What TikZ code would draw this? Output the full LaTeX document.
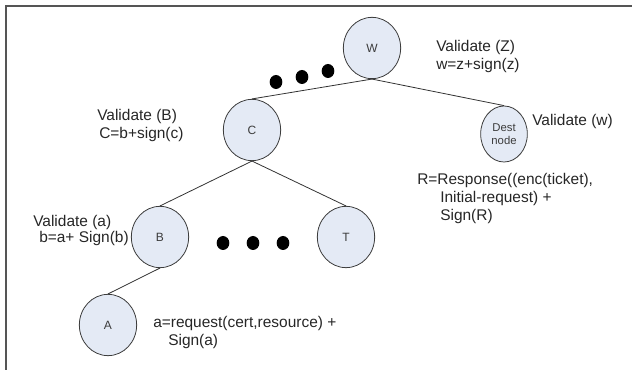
\documentclass[tikz,border=0pt]{standalone}
\usepackage{fontspec}
\setmainfont{Liberation Sans}
\usepackage{tikz}
\usetikzlibrary{shapes.geometric}
\usepackage{xcolor}
\definecolor{peer-fill}{HTML}{E4EAF5}
\definecolor{peer-line}{HTML}{3C3C3C}
\definecolor{frame-gray}{HTML}{555555}

\begin{document}
\begin{tikzpicture}[x=0.75pt, y=-0.75pt,
	peer/.style={ellipse, draw=peer-line, fill=peer-fill, line width=0.6pt, minimum width=43pt, minimum height=46pt, inner sep=0pt, text=peer-line, font=\fontsize{9}{10}\selectfont},
	destpeer/.style={peer, minimum width=35pt, minimum height=42pt, align=center, font=\fontsize{8.5}{10}\selectfont},
	lbl/.style={anchor=west, inner sep=0pt, text=black!85, font=\fontsize{11.6}{13}\selectfont},
	blob/.style={ellipse, fill=black, inner sep=0pt, minimum width=9.5pt, minimum height=10.5pt},
	link/.style={line width=0.6pt, black!80}]
	\useasboundingbox (0,0) rectangle (632,370);
	\draw[frame-gray, line width=1.2pt] (6,370) -- (6,6) -- (632,6);
	
	% peers
	\node[peer] at (372,48) (w) {W};
	\node[peer] at (252,130) (c) {C};
	\node[destpeer] at (504,134) (dest) {Dest\\node};
	\node[peer] at (160,237) (b) {B};
	\node[peer] at (346,237) (t) {T};
	\node[peer] at (108,325) (a) {A};
	
	\draw[link] (w.south) -- (c.north);
	\draw[link] (w.south) -- (dest.north);
	\draw[link] (c.south) -- (b.north);
	\draw[link] (c.south) -- (t.north);
	\draw[link] (b.south) -- (a.north);
	
	% dots
	\node[blob] at (276,82) (d1) {};
	\node[blob] at (302,77) (d2) {};
	\node[blob] at (328,71) (d3) {};
	\node[blob] at (223,243) (e1) {};
	\node[blob] at (253,243) (e2) {};
	\node[blob] at (283,243) (e3) {};
	
	% labels
	\node[lbl] at (436,48) (valz) {Validate (Z)};
	\node[lbl] at (436,66) (signz) {w=z+sign(z)};
	\node[lbl] at (97,117) (valb) {Validate (B)};
	\node[lbl] at (99,135) (signc) {C=b+sign(c)};
	\node[lbl] at (532,121) (valw) {Validate (w)};
	\node[lbl] at (417,181) (resp) {R=Response((enc(ticket),};
	\node[lbl] at (440,199) (initreq) {Initial-request) +};
	\node[lbl] at (440,217) (signr) {Sign(R)};
	\node[lbl] at (33,222) (vala) {Validate (a)};
	\node[lbl] at (39,239) (signb) {b=a+ Sign(b)};
	\node[lbl] at (153,324) (req) {a=request(cert,resource) +};
	\node[lbl] at (168,342) (signa) {Sign(a)};
\end{tikzpicture}
\end{document}
